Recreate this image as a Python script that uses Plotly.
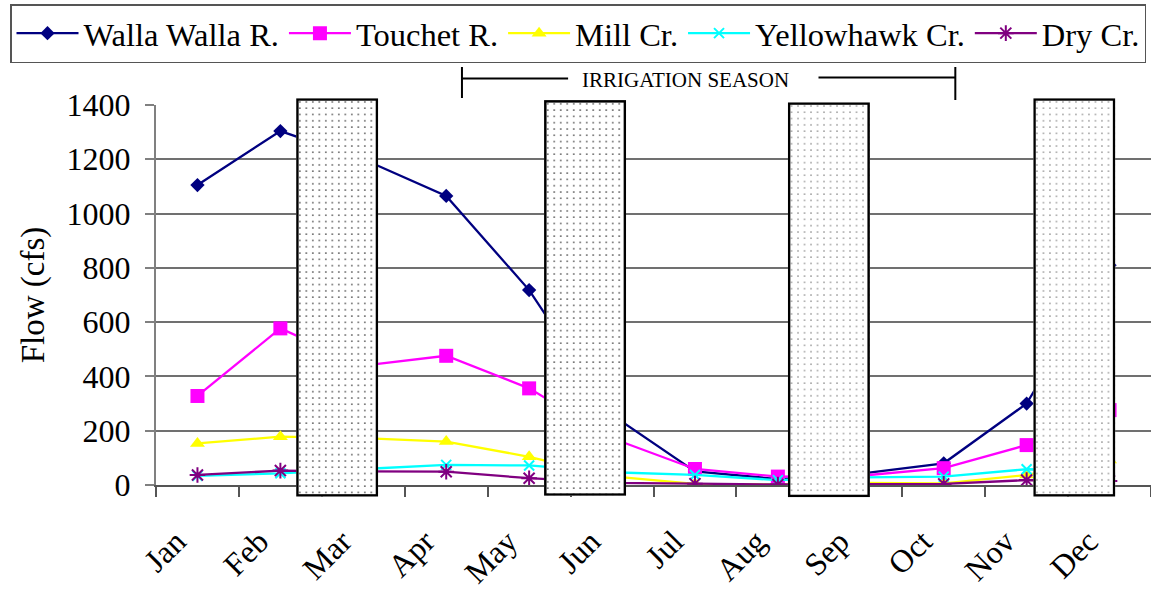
import base64
import plotly.graph_objects as go

# Monthly mean flows (cfs)
months = ["Jan", "Feb", "Mar", "Apr", "May", "Jun",
          "Jul", "Aug", "Sep", "Oct", "Nov", "Dec"]
walla_walla = [1105, 1304, 1200, 1065, 718, 258, 50, 22, 42, 80, 300, 810]
touchet = [328, 577, 440, 476, 356, 172, 59, 31, 34, 62, 147, 276]
mill = [153, 178, 173, 160, 104, 32, 4, 2, 8, 6, 37, 92]
yellowhawk = [34, 43, 59, 74, 72, 47, 37, 18, 28, 31, 58, 55]
dry = [37, 53, 50, 49, 25, 8, 5, 2, 3, 4, 18, 15]

y_ticks = [0, 200, 400, 600, 800, 1000, 1200, 1400]

# Stippled blocks (category units left/right, flow units top/bottom)
block_spans = [(1.19, 2.18, 1425, -43), (4.18, 5.17, 1418, -40),
               (7.12, 8.11, 1410, -45), (10.08, 11.07, 1425, -43)]
block_dot_colors = ["#3a3a3a", "#3a3a3a", "#8a8a8a", "#8a8a8a"]

# Irrigation-season bracket, in category units
season_start, season_end = 3.19, 9.14
season_label_x = 5.88

W, H = 1151, 590
M_L, M_R, M_T, M_B = 156, 0, 105, 105
plot_w = W - M_L - M_R
plot_h = H - M_T - M_B
px_per_cat = plot_w / len(months)
Y_MAX = 1400

FONT = "Liberation Serif"

fig = go.Figure()

styles = [
    ("Walla Walla R.", walla_walla, "#000080", dict(symbol="diamond", size=11)),
    ("Touchet R.", touchet, "#FF00FF", dict(symbol="square", size=14)),
    ("Mill Cr.", mill, "#FFFF00", dict(symbol="triangle-up", size=13)),
    ("Yellowhawk Cr.", yellowhawk, "#00FFFF",
     dict(symbol="x-thin", size=10, line=dict(width=2, color="#00FFFF"))),
    ("Dry Cr.", dry, "#800080",
     dict(symbol="asterisk", size=13, line=dict(width=2, color="#800080"))),
]
for name, vals, color, mk in styles:
    marker = dict(color=color, **mk)
    fig.add_trace(go.Scatter(
        x=months, y=vals, name=name, mode="lines+markers",
        line=dict(color=color, width=2.3), marker=marker,
    ))


def block_svg(w, h, dot):
    svg = (
        f"<svg xmlns='http://www.w3.org/2000/svg' width='{w:.1f}' height='{h:.1f}' "
        f"viewBox='0 0 {w:.1f} {h:.1f}' preserveAspectRatio='none'>"
        "<defs><pattern id='p' x='0' y='0' width='6.5' height='6.3' "
        "patternUnits='userSpaceOnUse'>"
        f"<rect x='3' y='3' width='1.4' height='1.4' fill='{dot}'/></pattern></defs>"
        f"<rect x='0' y='0' width='{w:.1f}' height='{h:.1f}' fill='#ffffff'/>"
        f"<rect x='0' y='0' width='{w:.1f}' height='{h:.1f}' fill='url(#p)'/>"
        f"<rect x='1.25' y='1.25' width='{w - 2.5:.1f}' height='{h - 2.5:.1f}' "
        "fill='none' stroke='#000000' stroke-width='2.5'/></svg>"
    )
    return "data:image/svg+xml;base64," + base64.b64encode(svg.encode()).decode()


images = []
for (x0, x1, top, bottom), dot in zip(block_spans, block_dot_colors):
    w_px = (x1 - x0) * px_per_cat
    h_px = (top - bottom) / Y_MAX * plot_h
    images.append(dict(
        source=block_svg(w_px, h_px, dot),
        xref="x", yref="paper", x=x0, y=top / Y_MAX,
        sizex=x1 - x0, sizey=(top - bottom) / Y_MAX,
        xanchor="left", yanchor="top", sizing="stretch", layer="above",
    ))


def paper_y(px_from_top):
    return 1 + (M_T - px_from_top) / plot_h


line_style = dict(color="#000000", width=2)
shapes = [
    dict(type="line", xref="x", yref="paper", x0=season_start, x1=season_start,
         y0=paper_y(67), y1=paper_y(98), line=line_style),
    dict(type="line", xref="x", yref="paper", x0=season_start, x1=4.47,
         y0=paper_y(78.5), y1=paper_y(78.5), line=line_style),
    dict(type="line", xref="x", yref="paper", x0=7.49, x1=season_end,
         y0=paper_y(77.5), y1=paper_y(77.5), line=line_style),
    dict(type="line", xref="x", yref="paper", x0=season_end, x1=season_end,
         y0=paper_y(67), y1=paper_y(100), line=line_style),
]

fig.update_layout(
    width=W, height=H,
    margin=dict(l=M_L, r=M_R, t=M_T, b=M_B),
    paper_bgcolor="white", plot_bgcolor="white",
    font=dict(family=FONT, size=32, color="black"),
    images=images,
    shapes=shapes,
    annotations=[dict(
        text="IRRIGATION SEASON", xref="x", yref="paper",
        x=season_label_x, y=paper_y(80), showarrow=False,
        font=dict(family=FONT, size=21, color="black"),
        xanchor="center", yanchor="middle",
    )],
    legend=dict(
        orientation="h", x=(10 - M_L) / plot_w, y=paper_y(4),
        xanchor="left", yanchor="top",
        bordercolor="#555555", borderwidth=1.5, bgcolor="white",
        font=dict(family=FONT, size=32.5, color="black"),
        itemwidth=62,
    ),
    xaxis=dict(
        type="category", range=[-0.5, 11.5], tickson="boundaries",
        ticks="outside", ticklen=10, tickcolor="#555555", tickwidth=1.5,
        showline=True, linecolor="#555555", linewidth=2,
        showgrid=False, zeroline=False, tickangle=-45,
        ticklabelstandoff=23, ticklabelshift=-21,
        tickfont=dict(family=FONT, size=32, color="black"),
    ),
    yaxis=dict(
        range=[0, Y_MAX], tickvals=y_ticks,
        ticks="outside", ticklen=9, tickcolor="#808080", tickwidth=1.5,
        showline=True, linecolor="#808080", linewidth=2,
        gridcolor="#707070", gridwidth=1.5, zeroline=False,
        ticklabelstandoff=8,
        tickfont=dict(family=FONT, size=32, color="black"),
        title=dict(text="Flow (cfs)", standoff=12,
                   font=dict(family=FONT, size=33, color="black")),
    ),
)

fig.write_html("out.html")
